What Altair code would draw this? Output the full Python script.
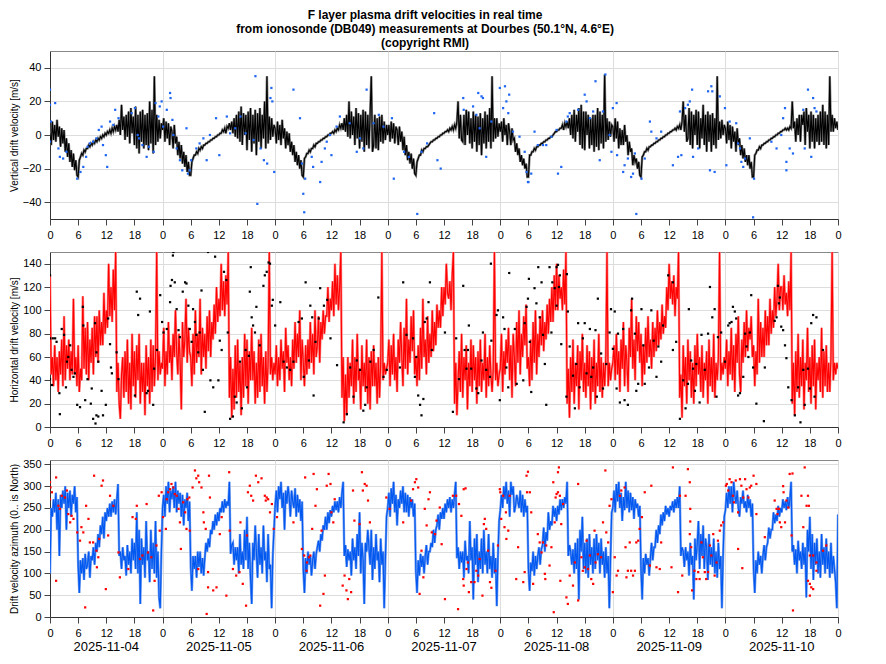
import altair as alt
import pandas as pd

DAYS = ["2025-11-04", "2025-11-05", "2025-11-06", "2025-11-07",
        "2025-11-08", "2025-11-09", "2025-11-10"]
HOUR_TICKS = list(range(0, 169, 6))

# ---- vertical drift velocity [m/s], quarter-hour values, one list per day ----
VZ_D1 = [1,-6,8,-3, 6,-4,9,-1, 5,-7,4,-5, 3,-10,-2,-13, -5,-16,-9,-19, -11,-21,-15,-24,
         -25,-15,-13,-11, -12,-9,-10,-8, -8,-6,-7,-5, -6,-4,-5,-3, -4,-2,-3,-1, -2,0,-1,1,
         0,2,1,3, 1,4,2,5, 3,6,2,9, 0,18,3,11, -3,12,-1,14, -5,16,1,11,
         -6,17,-8,12, -11,14,-4,15, -8,12,-6,13, -9,20,-5,15, -11,35,-6,12, -4,9,-2,7]
VZ_D2 = [3,10,-4,8, -2,7,-6,5, 2,-8,6,-5, -1,-12,-4,-14, -6,-17,-10,-19, -12,-22,-16,-24,
         -24,-16,-14,-12, -12,-10,-11,-8, -9,-7,-8,-6, -6,-5,-5,-4, -4,-3,-3,-2, -2,-1,-1,0,
         0,1,1,3, 2,4,1,5, 4,7,3,8, 1,10,-1,12, -2,14,-4,17, -6,13,0,12,
         -9,14,-3,16, -10,12,-5,15, -12,13,-4,16, -8,12,-2,20, -8,35,-5,11, -3,10,-1,6]
VZ_D3 = [4,-5,8,-3, 6,-6,9,-2, 4,-8,2,-6, 1,-10,-4,-12, -6,-16,-10,-18, -12,-20,-15,-24,
         -25,-14,-13,-11, -11,-9,-10,-8, -8,-6,-7,-5, -5,-4,-4,-3, -3,-2,-2,-1, -1,0,0,1,
         1,2,1,3, 2,4,3,6, 4,7,3,10, 2,12,-1,20, -2,14,0,11, -6,16,-2,13,
         -8,12,-4,15, -10,14,-6,12, -8,13,35,-10, -6,12,-8,10, -9,11,-4,12, -5,8,-3,6]
VZ_D4 = [0,6,-4,8, -2,7,-5,5, 3,-6,5,-4, 2,-9,-1,-12, -6,-15,-10,-17, -11,-20,-14,-23,
         -24,-16,-14,-12, -12,-9,-10,-8, -8,-7,-7,-6, -5,-4,-4,-3, -3,-2,-2,-1, -1,0,0,1,
         1,2,2,3, 2,4,3,5, 3,6,4,8, 20,-2,12,-3, -4,12,-6,15, 0,14,-5,10,
         -8,14,-4,12, -10,11,-6,13, -12,10,-5,14, -8,12,-4,16, -8,35,-4,10, -2,10,-1,7]
VZ_D5 = [2,8,-4,10, 0,6,-6,7, 2,-6,4,-3, -2,-10,-5,-12, -8,-16,-12,-18, -14,-20,-17,-25,
         -25,-12,-12,-10, -10,-8,-9,-7, -7,-6,-6,-5, -5,-4,-4,-3, -3,-2,-2,-1, -1,0,1,2,
         2,3,3,4, 4,6,3,7, 5,8,4,10, 0,12,-2,15, -4,12,2,16, -6,18,-8,14,
         -9,14,0,12, -8,10,-6,12, -10,12,-7,16, -9,14,-5,12, -8,36,-4,10, -3,8,-1,6]
VZ_D6 = [5,-4,10,-2, 8,-8,4,-6, 3,-6,6,-4, 0,-12,-4,-10, -8,-18,-12,-16, -14,-20,-16,-24,
         -25,-13,-12,-10, -10,-8,-9,-7, -7,-6,-6,-5, -5,-4,-4,-3, -3,-2,-2,-1, -1,0,0,1,
         1,2,2,3, 3,4,3,5, 4,6,3,8, 20,2,12,-4, -2,16,-6,14, -8,12,0,15,
         -6,14,-8,10, -2,18,-6,12, -10,14,-4,12, -10,13,-6,10, -8,35,-3,8, -2,9,0,6]
VZ_D7 = [4,-5,8,-3, 6,-8,5,-4, 2,-10,4,-6, -2,-12,-6,-14, -8,-16,-12,-18, -12,-20,-16,-25,
         -25,-12,-11,-9, -9,-7,-8,-6, -6,-5,-5,-4, -4,-3,-3,-2, -2,-1,-1,0, 0,1,1,2,
         2,3,3,4, 3,4,3,5, 4,20,4,8, -4,10,0,12, -4,12,6,14, -6,16,2,12,
         -8,14,-4,12, -8,10,-4,12, -6,14,-4,18, -6,14,-8,12, -6,35,2,12, 2,10,4,8]
VZ_END = 3

# ---- horizontal drift velocity [m/s] ----
VH_D1 = [130,45,60,35, 70,40,60,30, 65,45,75,35, 95,40,70,50, 75,40,65,45, 110,45,60,35,
         70,30,50,40, 112,50,85,45, 90,40,75,55, 85,45,95,60, 95,55,100,70, 90,70,115,80,
         100,85,140,95, 120,90,135,100, 150,30,55,20, 7,45,60,25, 65,30,75,20, 55,15,80,35,
         65,25,70,40, 80,20,55,30, 55,10,70,35, 60,20,75,30, 70,35,60,150, 40,65,45,55]
VH_D2 = [50,85,35,65, 45,90,55,70, 40,80,60,100, 65,45,80,55, 15,90,60,75, 110,55,85,65,
         60,35,80,45, 100,55,80,60, 110,45,85,60, 80,50,95,65, 100,60,90,75, 105,80,120,90,
         110,95,140,100, 125,95,130,105, 150,25,60,8, 50,15,70,25, 75,30,55,10, 60,25,80,35,
         75,20,65,40, 85,40,65,20, 55,25,75,30, 80,35,60,20, 65,30,55,150, 45,60,40,55]
VH_D3 = [45,70,35,60, 40,75,50,65, 30,85,55,70, 40,60,35,75, 50,90,55,80, 60,100,40,75,
         55,35,70,45, 75,50,90,55, 80,45,100,60, 70,95,55,90, 75,100,80,95, 95,120,90,110,
         100,125,95,140, 105,130,100,120, 150,25,60,5, 45,10,60,25, 55,35,75,20, 60,30,80,40,
         50,15,70,35, 55,30,75,20, 60,15,65,35, 70,35,55,20, 60,25,55,150, 40,55,45,50]
VH_D4 = [55,75,35,70, 45,80,40,60, 30,75,55,90, 60,35,85,50, 110,45,75,55, 95,65,100,45,
         60,35,70,40, 85,50,110,60, 75,45,95,55, 80,60,100,65, 90,70,105,85, 100,85,120,95,
         120,105,140,115, 110,125,100,130, 150,20,55,10, 40,65,30,80, 25,60,40,70, 15,55,35,75,
         30,70,40,60, 20,65,35,75, 30,55,40,80, 25,60,35,70, 45,30,50,150, 40,55,35,45]
VH_D5 = [50,80,30,65, 45,75,55,85, 40,70,25,80, 60,35,90,55, 100,45,80,60, 95,70,105,50,
         60,35,75,40, 90,55,100,45, 80,60,95,70, 100,65,90,75, 105,80,110,90, 120,90,130,100,
         140,100,130,110, 120,100,135,105, 150,20,50,8, 60,30,75,20, 55,35,70,15, 65,40,80,30,
         55,25,70,35, 65,15,60,30, 75,20,55,35, 80,30,60,25, 55,35,60,150, 35,55,40,50]
VH_D6 = [55,70,40,80, 45,65,30,75, 50,90,35,70, 55,30,85,60, 110,50,75,40, 95,65,90,55,
         80,35,70,45, 85,55,95,60, 75,50,90,60, 85,65,100,70, 90,75,105,80, 95,85,120,100,
         140,110,125,105, 130,95,120,110, 150,25,45,8, 70,35,60,20, 75,40,65,25, 55,20,70,35,
         80,45,60,30, 70,25,55,40, 65,20,75,35, 60,30,80,25, 55,40,60,150, 40,55,45,60]
VH_D7 = [50,75,35,65, 45,85,40,70, 30,80,55,95, 45,30,75,55, 90,60,100,65, 85,75,95,60,
         70,35,65,45, 110,55,90,60, 85,60,100,70, 95,70,110,80, 100,85,120,95, 110,140,100,120,
         120,100,130,105, 115,95,125,100, 150,20,55,10, 65,30,80,25, 60,35,75,15, 55,40,85,30,
         60,20,70,35, 75,15,55,40, 60,30,85,25, 65,35,70,30, 55,30,60,150, 40,55,45,55]
VH_END = 50

# ---- drift velocity azimuth [deg, 0 = North] ----
AZ_D1 = [100,250,230,270, 240,285,200,270, 140,280,250,290, 260,300,200,285, 250,290,230,280, 260,300,240,275,
         120,55,130,100, 135,85,145,110, 120,150,90,140, 130,160,120,170, 150,190,160,210, 190,230,180,240,
         220,250,230,260, 230,265,240,270, 235,270,305,140, 150,110,160,130, 140,95,165,120, 150,100,180,130,
         170,110,240,100, 200,30,180,120, 160,90,220,130, 150,80,200,110, 170,100,220,90, 150,45,20,150]
AZ_D2 = [250,280,230,300, 260,310,240,290, 270,300,250,310, 240,290,260,285, 230,280,210,270, 250,285,220,265,
         115,60,140,110, 140,90,150,115, 150,100,135,95, 135,170,150,180, 160,200,190,220, 200,235,210,240,
         220,250,240,265, 240,270,250,265, 255,310,145,165, 170,120,160,130, 160,100,190,120, 150,110,200,130,
         230,110,170,90, 30,170,130,210, 150,90,190,120, 160,100,210,130, 150,80,190,110, 120,20,140,200]
AZ_D3 = [255,290,240,300, 270,310,250,285, 200,290,260,300, 275,230,290,265, 250,295,230,280, 240,270,220,265,
         110,55,135,100, 150,120,140,95, 130,150,110,145, 160,175,150,190, 175,210,200,230, 200,240,215,245,
         230,255,240,265, 245,265,240,275, 250,285,310,140, 165,115,155,130, 150,95,180,130, 160,110,190,140,
         240,100,170,130, 30,170,150,200, 160,120,200,85, 160,110,190,130, 150,80,180,120, 150,20,130,230]
AZ_D4 = [250,285,230,295, 260,310,240,280, 210,270,250,290, 260,300,240,285, 240,280,230,275, 250,270,230,260,
         105,55,130,95, 145,115,140,100, 140,165,120,150, 150,170,160,200, 170,200,210,235, 200,240,225,250,
         225,260,240,270, 250,275,240,270, 250,280,310,135, 160,110,150,125, 150,90,175,130, 140,100,220,130,
         160,40,180,120, 190,80,150,110, 180,100,200,120, 150,100,190,110, 140,90,170,100, 135,25,140,220]
AZ_D5 = [245,280,250,300, 270,310,260,290, 230,310,280,300, 240,255,280,265, 250,290,240,280, 230,270,240,255,
         110,60,125,105, 150,95,140,110, 140,160,120,155, 165,205,150,195, 175,240,200,220, 210,255,230,250,
         220,255,235,270, 245,270,250,275, 260,310,140,165, 150,120,155,100, 170,110,180,40, 200,150,230,110,
         170,100,180,90, 190,120,160,100, 180,110,190,130, 170,100,180,120, 150,90,160,100, 140,20,135,240]
AZ_D6 = [250,290,240,305, 265,310,250,285, 220,275,245,310, 250,290,240,285, 245,275,225,270, 250,260,230,255,
         110,40,135,100, 145,120,135,95, 135,170,130,160, 160,200,170,210, 190,235,210,240, 220,255,235,250,
         230,255,245,265, 240,270,250,275, 250,300,140,160, 150,115,160,130, 150,95,170,120, 140,40,180,130,
         170,220,110,190, 140,210,110,180, 160,85,190,120, 160,115,180,100, 150,90,170,110, 140,20,140,230]
AZ_D7 = [245,285,250,300, 260,300,240,310, 280,260,290,250, 230,275,260,290, 250,265,240,280, 250,270,230,260,
         110,55,130,100, 150,120,140,100, 140,165,130,160, 170,205,180,200, 200,240,215,235, 220,255,230,250,
         240,270,250,265, 245,275,250,270, 310,150,165,120, 155,100,175,130, 150,110,170,120, 160,45,200,150,
         230,110,190,85, 170,120,180,100, 150,90,190,120, 160,100,180,110, 150,90,170,100, 140,110,80,20]
AZ_END = 235

# ---- individual (non-accepted) measurements: (hour since 2025-11-04 00:00, value) ----
VZ_DOTS = [(0.0,27),(0.0,18),(1.1,19),(0.2,8),(0.0,-4),(1.8,-8),(2.1,-13),(2.8,-14),(3.5,-10),(5.8,-26),
 (6.5,-22),(7.1,-19),(7.7,-13),(8.0,-7),(8.5,-5),(9.2,-4),(9.9,-2),(10.4,3),(11.0,5),(11.3,-6),
 (11.9,-12),(12.2,-19),(12.8,8),(13.5,6),(13.9,15),(14.6,10),(17.4,13),(18.1,16),(18.7,0),(19.0,-2),
 (19.7,-6),(20.6,-13),(21.1,-7),(22.1,-10),(22.5,19),(23.1,11),(23.4,17),(23.8,20),(24.1,5),(24.9,15),
 (25.6,25),(25.7,22),(26.1,9),(26.3,0),(27.0,-8),(27.7,-15),(28.2,-21),(29.1,4),(29.4,-23),(29.8,-21),
 (30.1,-15),(31.2,-8),(31.9,-5),(32.7,-2),(33.4,-15),(34.1,0),(35.4,10),(36.1,-12),(37.7,11),(38.4,1),
 (39.5,4),(40.6,11),(41.7,1),(43.4,-3),(43.8,35),(44.2,-41),(44.9,-8),(45.6,-15),(46.3,-17),(47.0,22),
 (47.4,20),(47.2,28),(47.8,-22),(51.9,27),(53.3,10),(53.7,-17),(54.0,-35),(54.2,-46),(54.4,-26),(55.8,-13),
 (56.1,-19),(57.6,-28),(57.9,-16),(58.6,-8),(59.0,-4),(59.7,0),(60.0,-12),(61.1,5),(61.8,11),(63.9,7),
 (65.4,-10),(67.5,27),(66.8,-8),(66.1,-2),(69.0,7),(70.1,12),(71.1,5),(73.3,-26),(72.9,10),(75.5,-10),
 (76.5,-13),(78.3,-47),(79.2,-10),(80.4,-5),(81.9,13),(82.6,-15),(83.3,-20),
 (88.1,22),(88.2,15),(90.2,17),(91.3,25),(92.0,23),(92.3,22),(90.9,12),(91.6,4),(93.0,-13),(94.1,8),
 (95.9,28),(97.0,29),(97.3,20),(97.9,24),(96.6,16),(97.7,13),(98.7,2),(100.1,-1),(101.2,-10),(101.6,-22),
 (101.9,-28),(102.0,-28),(102.6,-23),(103.3,2),(104.0,-6),(105.1,-6),(105.8,-6),(106.9,-1),(108.0,3),(108.3,-23),
 (109.0,-19),(110.1,8),(110.4,11),(110.8,13),(112.6,15),(114.0,24),(114.4,20),(115.1,10),(115.8,14),(116.3,32),
 (117.2,-15),(117.9,14),(118.4,36),(119.3,0),(120.0,16),(120.8,19),(119.7,-10),(120.9,-12),(122.2,-22),(122.5,-18),
 (123.2,-14),(123.9,-25),(124.3,-23),(125.0,-47),(124.7,-11),(126.1,-26),(126.8,-14),(127.9,8),(128.2,2),(129.3,-2),
 (130.3,2),(132.8,-18),(133.9,-13),(134.6,-12),(134.3,14),(135.4,16),(136.0,18),(136.4,20),(136.9,27),(137.1,-13),
 (138.2,-8),(140.3,26),(140.7,-21),(141.0,29),(141.2,26),(141.7,-22),(142.8,23),(143.9,16),(144.2,-18),(144.9,8),
 (146.3,7),(146.7,-5),(147.1,-8),(147.4,-16),(147.8,-19),(148.2,-14),(149.2,-2),(149.9,-49),(150.1,-26),(153.8,-4),
 (154.9,-8),(155.9,0),(156.7,16),(157.0,-16),(157.0,-21),(157.7,-8),(158.4,-11),(156.3,10),(160.6,15),(160.9,-8),
 (161.6,27),(162.3,-13),(162.7,22),(163.0,16),(163.4,14)]

VH_DOTS = [(0.0,130),(0.0,76),(0.6,76),(0.0,41),(0.4,36),(1.1,76),(1.4,73),(2.1,11),(2.0,29),(2.5,84),
 (3.0,79),(3.4,34),(3.6,56),(3.9,60),(4.3,70),(4.6,49),(5.0,43),(5.3,46),(5.8,19),(6.4,17),
 (7.0,103),(7.1,87),(7.5,23),(8.0,41),(8.7,20),(8.9,33),(9.2,7),(9.7,3),(9.9,10),(10.3,9),
 (9.9,64),(9.6,89),(10.3,56),(11.0,31),(11.3,10),(11.9,19),(12.4,93),(12.8,71),(13.2,46),(13.0,51),
 (14.2,64),(14.6,41),(18.1,27),(18.5,116),(19.2,110),(18.8,96),(21.3,99),(20.9,31),(20.6,29),(22.0,19),
 (22.2,50),(22.8,66),(23.5,113),(23.9,90),(24.2,81),(24.9,84),(25.6,107),(25.7,121),(26.0,126),(26.2,147),
 (26.3,150),(26.6,124),(27.0,101),(27.4,83),(27.7,77),(28.3,116),(28.8,124),(29.1,123),(29.5,104),(29.8,84),
 (30.2,73),(30.5,101),(30.9,90),(31.2,79),(31.6,64),(31.9,81),(32.3,117),(32.6,49),(33.0,13),(33.7,150),
 (34.2,40),(34.8,34),(35.2,146),(35.9,40),(36.2,74),(36.6,66),(37.1,133),(37.6,126),(37.9,81),(38.4,7),
 (39.0,9),(39.4,26),(39.8,21),(40.5,56),(40.9,16),(41.7,66),(42.0,34),(42.4,61),(42.6,116),(42.8,137),
 (43.0,94),(43.3,87),(43.7,81),(44.0,103),(44.7,70),(45.5,121),(45.8,130),(46.2,133),(46.6,141),(46.9,140),
 (47.3,104),(47.5,109),(48.0,87),(49.1,107),(49.8,56),(50.5,51),(51.2,49),(51.9,56),(53.0,90),(53.7,93),
 (54.1,43),(54.5,124),(55.2,57),(55.5,104),(55.9,94),(56.2,27),(56.6,73),(57.3,93),(57.6,119),(58.4,104),
 (59.1,109),(59.8,76),(61.2,53),(62.6,4),(63.3,11),(64.0,51),(64.7,26),(65.4,57),(66.1,49),(66.8,14),
 (67.2,19),(67.5,34),(68.3,56),(69.0,66),(70.0,111),(71.1,43),(71.8,49),(74.6,51),(75.3,124),(76.0,79),
 (77.4,76),(77.8,43),(78.1,60),(78.5,27),(78.9,19),(79.2,10),(79.6,24),(79.9,90),(80.3,93),(80.7,107),
 (81.0,124),(81.4,66),(84.2,81),(88.1,121),(86.6,76),(87.2,41),(85.9,13),(88.4,66),(89.1,66),(89.3,87),
 (88.8,50),(89.8,50),(90.9,33),(91.3,29),(92.0,57),(92.3,81),(93.0,49),(93.8,43),(94.0,140),(94.1,74),
 (95.2,96),(95.5,100),(95.9,23),(96.6,94),(96.9,84),(97.3,51),(97.9,132),(97.7,34),(99.1,84),(99.5,37),
 (100.9,40),(101.2,89),(101.6,103),(101.9,110),(102.1,127),(102.3,73),(102.6,30),(103.3,119),(103.7,106),(104.1,137),
 (104.4,94),(104.8,124),(105.1,79),(105.5,54),(105.8,19),(106.5,137),(106.9,81),(107.1,124),(107.6,119),(108.0,137),
 (108.3,139),(108.7,130),(108.5,120),(108.0,104),(109.0,71),(110.2,131),(110.4,99),(110.1,26),(110.8,69),(111.5,44),
 (111.9,16),(112.2,54),(112.6,89),(112.9,34),(113.6,76),(114.0,89),(114.4,46),(115.1,84),(115.4,43),(115.8,51),
 (116.3,83),(116.6,26),(116.8,110),(117.5,63),(117.9,33),(118.6,54),(119.3,81),(119.6,101),(120.0,67),(120.4,99),
 (120.8,33),(121.1,80),(121.5,21),(122.2,84),(122.5,23),(123.2,19),(123.9,100),(124.1,110),(124.7,80),(125.0,31),
 (125.4,37),(126.1,101),(126.5,70),(126.8,37),(127.7,51),(128.2,100),(128.7,74),(129.3,43),(129.7,69),(130.3,56),
 (130.7,87),(131.8,130),(132.8,124),(132.8,66),(133.5,73),(134.3,7),(135.0,40),(135.5,16),(136.0,37),(136.2,101),
 (136.7,57),(137.1,50),(137.5,31),(137.8,54),(138.5,21),(138.9,79),(139.6,49),(140.3,80),(140.7,120),(141.2,94),
 (141.7,101),(142.1,26),(142.4,77),(143.1,81),(143.9,56),(144.6,87),(144.9,89),(145.3,90),(145.6,103),(146.0,99),
 (146.3,93),(146.7,27),(147.1,29),(147.8,43),(148.2,80),(148.5,69),(148.9,60),(149.2,81),(149.5,113),(149.9,51),
 (150.6,20),(152.2,5),(152.4,51),(154.5,91),(154.9,94),(155.2,121),(155.4,106),(155.6,111),(155.9,86),(156.3,83),
 (156.7,70),(157.0,59),(157.4,34),(158.1,23),(158.8,10),(159.5,34),(160.0,4),(160.6,49),(160.9,19),(161.6,50),
 (162.0,33),(162.3,89),(162.7,96),(163.0,26),(163.4,94),(164.8,66)]

AZ_DOTS = [(0.0,309),(0.1,297),(0.4,286),(0.0,270),(1.3,83),(1.3,320),(1.8,255),(2.1,248),(2.5,278),(3.2,274),
 (3.6,290),(3.9,236),(4.3,217),(4.6,232),(5.0,225),(5.8,194),(6.4,175),(6.7,206),(7.1,194),(7.5,22),
 (7.7,255),(8.2,225),(8.5,171),(9.2,171),(9.4,324),(9.9,152),(10.3,137),(10.5,179),(10.0,114),(11.0,301),
 (11.3,313),(11.9,64),(12.4,187),(12.8,278),(13.5,255),(14.6,148),(14.9,91),(16.7,110),(17.6,229),(18.3,225),
 (18.5,255),(19.2,133),(19.7,141),(20.6,259),(20.9,148),(21.6,137),(22.0,15),(22.3,83),(22.7,164),(23.2,278),
 (23.4,198),(23.8,286),(24.1,229),(24.7,202),(24.9,270),(25.2,286),(25.6,293),(25.9,305),(26.3,297),(26.6,282),
 (27.0,278),(27.4,248),(27.7,217),(27.9,156),(28.4,263),(28.8,240),(29.1,202),(29.3,270),(29.7,274),(29.8,198),
 (30.4,297),(30.9,336),(31.2,318),(31.6,324),(31.8,309),(31.6,110),(32.3,297),(32.7,240),(32.8,217),(33.2,202),
 (33.7,103),(33.4,7),(33.9,324),(34.1,274),(33.7,68),(34.8,61),(35.5,68),(36.2,190),(36.6,229),(37.6,49),
 (38.2,332),(38.3,198),(39.0,110),(39.7,95),(40.4,103),(40.6,217),(41.1,76),(41.8,26),(42.0,187),(42.2,286),
 (42.6,301),(42.9,278),(43.3,267),(43.9,324),(44.4,309),(45.1,318),(45.8,278),(46.0,267),(46.2,274),(46.5,270),
 (46.9,240),(47.3,259),(47.7,202),(48.4,229),(51.9,217),(53.7,156),(54.2,141),(54.4,320),(54.7,106),(54.8,125),
 (55.2,137),(55.5,141),(55.9,202),(56.2,328),(56.6,255),(56.9,293),(57.6,26),(57.9,198),(58.3,53),(58.6,95),
 (59.0,301),(59.4,328),(59.8,305),(60.0,240),(60.4,217),(60.7,270),(62.4,72),(62.8,95),(63.2,61),(63.5,41),
 (63.8,87),(64.2,57),(64.6,290),(64.9,221),(66.0,213),(66.5,332),(66.7,290),(67.1,305),(67.5,301),(67.8,267),
 (68.2,217),(71.7,274),(72.4,248),(75.3,217),(77.0,267),(77.4,293),(77.8,309),(78.1,316),(78.5,297),(78.8,53),
 (79.2,152),(79.6,91),(79.9,248),(80.3,210),(80.7,270),(81.0,286),(81.4,194),(82.1,190),(82.4,221),(83.1,251),
 (83.5,167),(84.2,41),(85.9,278),(86.6,278),(87.0,18),(87.2,259),(87.7,232),(88.2,293),(88.6,295),(88.1,87),
 (88.2,72),(88.8,110),(89.1,125),(89.3,57),(89.8,80),(90.5,80),(90.9,106),(91.3,95),(91.6,133),(92.2,49),
 (92.5,213),(92.7,225),(93.0,202),(93.4,152),(93.8,80),(94.1,67),(95.0,106),(95.5,164),(95.9,293),(96.0,286),
 (96.2,225),(96.6,278),(96.9,206),(97.2,240),(97.3,179),(97.7,198),(98.0,278),(99.4,87),(99.8,160),(100.9,80),
 (101.2,103),(101.6,324),(101.9,333),(101.7,286),(102.3,286),(102.6,240),(103.0,76),(104.0,190),(104.4,171),(104.8,148),
 (105.1,171),(105.5,99),(105.6,87),(105.8,164),(106.5,118),(106.9,160),(107.3,309),(107.4,11),(107.6,217),(107.8,274),
 (108.0,282),(108.3,286),(108.7,278),(108.3,332),(108.5,343),(108.8,83),(109.0,213),(109.4,259),(110.1,45),(110.4,30),
 (110.8,95),(111.5,72),(111.9,125),(112.6,38),(112.6,305),(113.3,137),(113.6,106),(114.0,114),(114.4,175),(114.7,110),
 (115.1,141),(115.4,87),(115.8,76),(116.1,198),(116.3,125),(116.8,144),(117.5,137),(117.9,217),(118.4,336),(118.6,194),
 (119.0,171),(119.3,255),(119.7,270),(120.0,57),(120.4,137),(120.8,95),(121.1,106),(121.5,278),(121.8,290),(122.5,297),
 (122.7,160),(122.9,91),(123.2,106),(123.6,171),(123.9,106),(124.3,95),(124.7,106),(125.0,171),(125.4,175),(125.7,202),
 (126.2,229),(126.8,286),(128.2,301),(127.9,118),(129.3,114),(130.0,110),(130.3,171),(132.5,114),(132.8,343),(133.9,57),
 (134.3,278),(134.8,95),(135.5,278),(136.0,339),(136.4,309),(136.5,248),(136.5,219),(136.4,190),(136.7,160),(136.9,61),
 (137.4,106),(137.8,87),(138.2,103),(138.5,87),(138.9,171),(139.2,137),(139.6,103),(139.9,87),(140.3,103),(140.7,164),
 (141.0,141),(141.4,190),(141.7,95),(142.1,125),(142.4,175),(142.8,198),(143.1,210),(143.5,217),(144.1,301),(144.3,305),
 (144.6,290),(144.9,316),(145.3,309),(145.6,278),(145.8,263),(146.2,313),(146.7,240),(147.1,316),(147.4,301),(147.8,274),
 (148.2,316),(148.5,293),(148.9,274),(149.2,297),(149.5,301),(150.0,324),(150.6,236),(150.6,305),(146.7,156),(147.6,112),
 (152.4,183),(154.5,267),(154.9,248),(155.1,236),(155.4,248),(155.6,217),(155.9,206),(156.3,300),(156.4,286),(156.7,217),
 (157.0,267),(157.4,251),(157.7,328),(158.3,329),(158.4,15),(158.1,187),(160.2,278),(160.6,206),(160.9,343),(161.3,255),
 (161.6,278),(161.8,255),(161.6,83),(162.0,76),(162.3,68),(162.0,49),(162.7,64),(162.0,141),(162.7,141),(163.4,125),
 (163.4,106),(164.8,152),(165.5,164)]


def series(days, last):
    vals = [v for d in days for v in d] + [last]
    return pd.DataFrame({"t": [i * 0.25 for i in range(len(vals))], "v": vals})


def dots(pairs):
    return pd.DataFrame(pairs, columns=["t", "v"])


vz = series([VZ_D1, VZ_D2, VZ_D3, VZ_D4, VZ_D5, VZ_D6, VZ_D7], VZ_END)
vh = series([VH_D1, VH_D2, VH_D3, VH_D4, VH_D5, VH_D6, VH_D7], VH_END)
az = series([AZ_D1, AZ_D2, AZ_D3, AZ_D4, AZ_D5, AZ_D6, AZ_D7], AZ_END)
date_df = pd.DataFrame({"t": [12 + 24 * i for i in range(len(DAYS))], "d": DAYS})

W = 788
GRID_MIDNIGHT = {"condition": {"test": "datum.value % 24 === 0", "value": 1}, "value": 0}


def panel(line_df, dot_df, domain, yticks, ytitle, dark, light, dot_color, h, dates=False):
    x = alt.X("t:Q", scale=alt.Scale(domain=[0, 168], nice=False, zero=False),
              axis=alt.Axis(values=HOUR_TICKS, labelExpr="datum.value % 24", title=None,
                            labelFlush=False, labelOverlap=False, gridOpacity=GRID_MIDNIGHT))
    y = alt.Y("v:Q", scale=alt.Scale(domain=domain, nice=False, zero=False),
              axis=alt.Axis(values=yticks, title=ytitle, titleX=-36, titleY=h / 2,
                            titleBaseline="middle", titleAngle=270,
                            labelFlush=False, labelOverlap=False))
    layers = [
        alt.Chart(line_df).mark_line(color=light, strokeWidth=2.4, clip=True).encode(x=x, y=y),
        alt.Chart(line_df).mark_line(color=dark, strokeWidth=1.1, clip=True).encode(x=x, y=y),
        alt.Chart(dot_df).mark_square(size=5, color=dot_color, opacity=1, clip=True).encode(x=x, y=y),
    ]
    if dates:
        layers.append(alt.Chart(date_df).mark_text(fontSize=13, baseline="middle", color="black")
                      .encode(x=x, y=alt.value(h + 30), text="d:N"))
    return alt.layer(*layers).properties(width=W, height=h)


p1 = panel(vz, dots(VZ_DOTS), [-50, 50], [-40, -20, 0, 20, 40], "Vertical drift velocity [m/s]",
           "#000000", "#808080", "#1f66f2", 168)
p2 = panel(vh, dots(VH_DOTS), [0, 150], list(range(0, 141, 20)), "Horizontal drift velocity [m/s]",
           "#ff0000", "#ff8080", "#000000", 175)
p3 = panel(az, dots(AZ_DOTS), [0, 360], list(range(0, 351, 50)), "Drift velocity azimuth (0.. is North)",
           "#0058f0", "#6e9af0", "#ff0000", 157, dates=True)

chart = (
    alt.vconcat(p1, p2, p3, spacing=33, bounds="flush")
    .properties(
        title=alt.TitleParams(
            text=["F layer plasma drift velocities in real time",
                  "from ionosonde (DB049) measurements at Dourbes (50.1\u00b0N, 4.6\u00b0E)",
                  "(copyright RMI)"],
            fontSize=12, fontWeight="bold", anchor="middle", lineHeight=14, offset=1,
            color="black", font="Liberation Sans"),
        padding={"left": 0, "top": 0, "right": 10, "bottom": 5},
        autosize=alt.AutoSizeParams(type="pad"),
    )
    .configure(font="Liberation Sans")
    .configure_axis(labelFontSize=11, titleFontSize=10, titleFontWeight="normal",
                    labelColor="black", titleColor="black", tickColor="#444444",
                    domainColor="#333333", gridColor="#dddddd", tickSize=6,
                    labelFont="Liberation Sans", titleFont="Liberation Sans")
    .configure_axisX(labelPadding=4)
    .configure_axisY(labelPadding=3)
    .configure_view(stroke="#888888", strokeWidth=1)
)

chart.save("out.html", embed_options={"renderer": "svg", "actions": False})
